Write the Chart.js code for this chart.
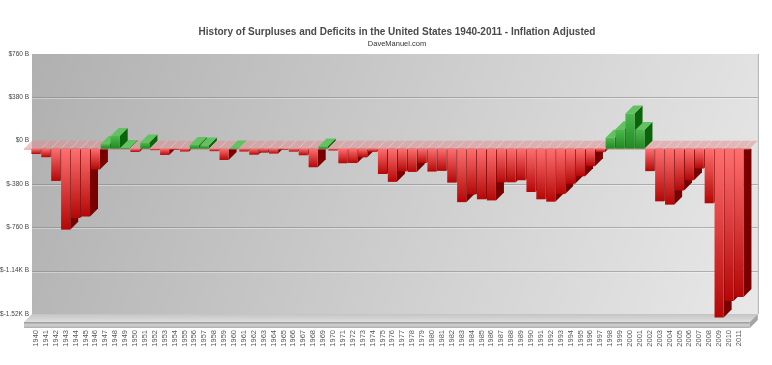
<!DOCTYPE html>
<html>
<head>
<meta charset="utf-8">
<script src="https://cdn.jsdelivr.net/npm/chart.js@4.4.0/dist/chart.umd.min.js"></script>
<style>
  html, body { margin: 0; padding: 0; background: #fff; }
</style>
</head>
<body>
<canvas id="myChart" width="772" height="365"></canvas>
<script>
const years = ['1940','1941','1942','1943','1944','1945','1946','1947','1948','1949',
  '1950','1951','1952','1953','1954','1955','1956','1957','1958','1959',
  '1960','1961','1962','1963','1964','1965','1966','1967','1968','1969',
  '1970','1971','1972','1973','1974','1975','1976','1977','1978','1979',
  '1980','1981','1982','1983','1984','1985','1986','1987','1988','1989',
  '1990','1991','1992','1993','1994','1995','1996','1997','1998','1999',
  '2000','2001','2002','2003','2004','2005','2006','2007','2008','2009',
  '2010','2011'];

// surplus (+) / deficit (-), billions of 2011 dollars
const balance = [-47, -75, -283, -710, -608, -595, -183, 40, 110, 6,
  -29, 53, -13, -55, -10, -25, 32, 27, -22, -99,
  2, -25, -53, -35, -43, -10, -26, -58, -163, 20,
  -16, -128, -126, -76, -28, -222, -291, -199, -204, -126,
  -201, -195, -298, -469, -401, -444, -454, -296, -295, -277,
  -380, -444, -465, -397, -308, -242, -154, -31, 96, 170,
  308, 163, -197, -462, -491, -367, -277, -174, -479, -1481,
  -1335, -1300];

const yTicks = [760, 380, 0, -380, -760, -1140, -1520];
const yTickLabels = ['$760 B', '$380 B', '$0 B', '$-380 B', '$-760 B', '$-1.14K B', '$-1.52K B'];

const DEPTH = 8;
const FONT = "'Liberation Sans', Arial, sans-serif";

const ctx = document.getElementById('myChart');

// titles centred over the plot, not over the whole canvas
const centreTitles = {
  id: 'centreTitles',
  afterLayout(chart) {
    chart.boxes.forEach(b => {
      if (b.position === 'top' && b.options && b.options.text) {
        b.left = 38;
        b.right = chart.width - 16;
      }
    });
  }
};

// fake 3d: wall, floor, zero plane and the side/top faces of each bar
const depthPlugin = {
  id: 'depth',
  beforeDatasetsDraw(chart) {
    const c = chart.ctx;
    const a = chart.chartArea;
    const y = chart.scales.y;
    const bars = chart.getDatasetMeta(0).data;
    const zb = y.getPixelForValue(0);
    const zf = zb + DEPTH;
    const wl = a.left - 7, wr = a.right + 6;

    c.save();
    // back wall
    let g = c.createLinearGradient(wl, a.top, wr, a.bottom);
    g.addColorStop(0, '#b0b0b0');
    g.addColorStop(1, '#e8e8e8');
    c.fillStyle = g;
    c.fillRect(wl, a.top, wr - wl, a.bottom - a.top);

    // grid lines on the wall
    yTicks.forEach(v => {
      if (v === 0 || v === yTicks[0] || v === yTicks[yTicks.length - 1]) return;
      const py = Math.round(y.getPixelForValue(v)) + 0.5;
      c.strokeStyle = 'rgba(130,130,130,0.55)';
      c.lineWidth = 1;
      c.beginPath(); c.moveTo(wl, py); c.lineTo(wr, py); c.stroke();
      c.strokeStyle = 'rgba(255,255,255,0.35)';
      c.beginPath(); c.moveTo(wl, py + 1); c.lineTo(wr, py + 1); c.stroke();
    });

    // floor slab
    const fb = a.bottom, ff = a.bottom + DEPTH;
    g = c.createLinearGradient(0, fb, 0, ff);
    g.addColorStop(0, '#c4c4c4');
    g.addColorStop(1, '#dedede');
    c.fillStyle = g;
    c.beginPath();
    c.moveTo(wl, fb); c.lineTo(wr, fb); c.lineTo(wr - DEPTH, ff); c.lineTo(wl - DEPTH, ff);
    c.closePath(); c.fill();
    g = c.createLinearGradient(0, ff, 0, ff + 6);
    g.addColorStop(0, '#969696');
    g.addColorStop(0.5, '#d4d4d4');
    g.addColorStop(1, '#acacac');
    c.fillStyle = g;
    c.fillRect(wl - DEPTH, ff, wr - wl, 6);
    c.fillStyle = '#a4a4a4';
    c.beginPath();
    c.moveTo(wr - DEPTH, ff); c.lineTo(wr, fb); c.lineTo(wr, fb + 6); c.lineTo(wr - DEPTH, ff + 6);
    c.closePath(); c.fill();
    c.strokeStyle = 'rgba(150,150,150,0.8)';
    c.beginPath(); c.moveTo(wr + 0.5, a.top); c.lineTo(wr + 0.5, fb); c.stroke();

    const faces = (positive) => {
      bars.forEach((el, i) => {
        const v = balance[i];
        if ((v > 0) !== positive) return;
        const x0 = el.x - el.width / 2 - DEPTH, x1 = el.x + el.width / 2 - DEPTH;
        const top = Math.min(el.y, el.base) + DEPTH, bot = Math.max(el.y, el.base) + DEPTH;
        c.fillStyle = positive ? '#0a640a' : '#7a0000';
        c.beginPath();
        c.moveTo(x1, top); c.lineTo(x1 + DEPTH, top - DEPTH);
        c.lineTo(x1 + DEPTH, bot - DEPTH); c.lineTo(x1, bot);
        c.closePath(); c.fill();
        if (positive) {
          c.fillStyle = '#62c262';
          c.beginPath();
          c.moveTo(x0, top); c.lineTo(x0 + DEPTH, top - DEPTH);
          c.lineTo(x1 + DEPTH, top - DEPTH); c.lineTo(x1, top);
          c.closePath(); c.fill();
        }
      });
    };

    // negative side faces stay under the zero plane
    c.save();
    c.beginPath();
    c.rect(0, zf, chart.width, chart.height - zf);
    c.clip();
    faces(false);
    c.restore();

    // zero plane
    c.fillStyle = 'rgba(228,140,140,0.5)';
    c.beginPath();
    c.moveTo(wl, zb); c.lineTo(wr, zb); c.lineTo(wr - DEPTH, zf); c.lineTo(wl - DEPTH, zf);
    c.closePath(); c.fill();
    const step = bars.length > 1 ? bars[1].x - bars[0].x : 10;
    c.strokeStyle = 'rgba(255,255,255,0.3)';
    c.lineWidth = 1;
    bars.forEach(el => {
      const bx = el.x + step / 2;
      c.beginPath(); c.moveTo(bx, zb); c.lineTo(bx - DEPTH, zf); c.stroke();
    });
    c.strokeStyle = 'rgba(190,120,120,0.7)';
    c.beginPath(); c.moveTo(wl - DEPTH, zf + 0.5); c.lineTo(wr - DEPTH, zf + 0.5); c.stroke();

    faces(true);
    c.restore();

    // front faces are drawn by chart.js, moved to the front plane
    c.save();
    c.translate(-DEPTH, DEPTH);
  },
  afterDatasetsDraw(chart) {
    chart.ctx.restore();
  }
};

new Chart(ctx, {
  type: 'bar',
  data: {
    labels: years,
    datasets: [{
      data: balance,
      clip: false,
      borderWidth: 0,
      barPercentage: 0.92,
      categoryPercentage: 1.0,
      backgroundColor(c) {
        const v = c.raw;
        const flat = v < 0 ? '#d83030' : '#34a034';
        const y = c.chart.scales.y;
        if (!y || c.type !== 'data') return flat;
        const y0 = y.getPixelForValue(0);
        let y1 = y.getPixelForValue(v);
        if (!Number.isFinite(y0) || !Number.isFinite(y1)) return flat;
        if (Math.abs(y1 - y0) < 1) y1 = y0 + 1;
        const g = c.chart.ctx.createLinearGradient(0, y0, 0, y1);
        if (v < 0) {
          g.addColorStop(0, '#ff7070');
          g.addColorStop(1, '#b50606');
        } else {
          g.addColorStop(0, '#1f8a21');
          g.addColorStop(1, '#4db84d');
        }
        return g;
      }
    }]
  },
  options: {
    responsive: false,
    animation: false,
    events: [],
    layout: { padding: { top: 0, right: 16, bottom: 0, left: 0 } },
    plugins: {
      legend: { display: false },
      tooltip: { enabled: false },
      title: {
        display: true,
        text: 'History of Surpluses and Deficits in the United States 1940-2011 - Inflation Adjusted',
        color: '#4a4a4a',
        font: { family: FONT, size: 10, weight: 'bold' },
        padding: { top: 26, bottom: 0 }
      },
      subtitle: {
        display: true,
        text: 'DaveManuel.com',
        color: '#333333',
        font: { family: FONT, size: 7.5 },
        padding: { top: 1, bottom: 6 }
      }
    },
    scales: {
      x: {
        grid: { display: false, drawTicks: false },
        border: { display: false },
        ticks: {
          autoSkip: false,
          maxRotation: 90,
          minRotation: 90,
          padding: 16,
          labelOffset: -DEPTH,
          color: '#555555',
          font: { family: FONT, size: 7.5 }
        },
        afterFit(s) { s.height = 51; }
      },
      y: {
        min: -1520,
        max: 760,
        grid: { display: false, drawTicks: false },
        border: { display: false },
        afterBuildTicks(s) { s.ticks = yTicks.map(v => ({ value: v })); },
        ticks: {
          padding: 10,
          color: '#444444',
          font: { family: FONT, size: 6.5 },
          callback: v => yTickLabels[yTicks.indexOf(v)]
        },
        afterFit(s) { s.width = 39; }
      }
    }
  },
  plugins: [centreTitles, depthPlugin]
});
</script>
</body>
</html>
